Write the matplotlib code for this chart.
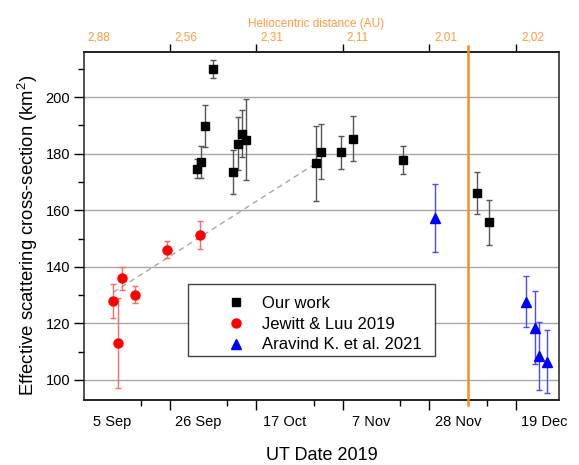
import matplotlib
matplotlib.use("Agg")
import matplotlib.pyplot as plt
from matplotlib.lines import Line2D
from matplotlib.patches import Rectangle
from matplotlib.ticker import FixedLocator

plt.rcParams['font.family'] = ['Liberation Sans', 'DejaVu Sans']
plt.rcParams['mathtext.fontset'] = 'custom'
plt.rcParams['mathtext.rm'] = 'Liberation Sans'
plt.rcParams['mathtext.default'] = 'regular'

# ---- data (x = days since 2019-09-01) ----
our_day = [24.56, 25.53, 26.5, 28.44, 33.44, 34.58, 35.55, 36.52,
           53.5, 54.65, 59.65, 62.57, 74.56, 92.52, 95.5]
our_val = [174.7, 177.1, 189.9, 209.9, 173.5, 183.6, 187.1, 184.9,
           176.6, 180.7, 180.5, 185.3, 177.8, 166.1, 155.8]
our_err = [3.3, 5.5, 7.5, 3.2, 7.8, 9.3, 8.4, 14.3,
           13.3, 9.7, 5.9, 7.9, 5.0, 7.3, 8.0]

jl_day = [4.32, 5.38, 6.43, 9.51, 17.42, 25.43]
jl_val = [128.0, 113.0, 135.9, 130.1, 146.1, 151.2]
jl_err = [6.0, 16.0, 4.0, 3.0, 3.0, 5.0]

ar_day = [82.4, 104.5, 106.6, 107.6, 109.5]
ar_val = [157.3, 127.6, 118.5, 108.5, 106.5]
ar_err = [12.0, 9.0, 12.8, 12.0, 11.0]

trend_day = [4.32, 53.5]
trend_val = [131.0, 176.6]

perihelion_day = 90.4

date_label_days = [4, 25, 46, 67, 88, 109]
date_labels = ['5 Sep', '26 Sep', '17 Oct', '7 Nov', '28 Nov', '19 Dec']
date_major_ticks = [18, 39, 60, 81, 102]
date_minor_ticks = [11, 32, 53, 74, 95]

helio_label_days = [0.85, 22.0, 42.8, 63.7, 85.1, 106.2]
helio_labels = ['2,88', '2,56', '2,31', '2,11', '2,01', '2,02']
helio_ticks = [18, 39, 60, 81, 102]

y_major = [100, 120, 140, 160, 180, 200]
y_minor = [110, 130, 150, 170, 190, 210]

orange = '#ff8a1f'
orange_txt = '#ff9a40'

fig = plt.figure(figsize=(5.79, 4.65), dpi=100)
ax = fig.add_axes([0.1451, 0.1398, 0.8204, 0.749])
ax.set_xlim(-2.8, 112.5)
ax.set_ylim(92.9, 216.1)

for s in ax.spines.values():
    s.set_linewidth(1.1)
    s.set_color('#222222')

# grid
ax.set_yticks(y_major)
ax.yaxis.set_minor_locator(FixedLocator(y_minor))
ax.yaxis.grid(True, color='#a8a8a8', lw=1.0)
ax.set_axisbelow(True)
ax.tick_params(axis='y', which='major', length=7, width=1, direction='out',
               labelsize=10.5, pad=3)
ax.tick_params(axis='y', which='minor', length=4, width=1, direction='out')

# bottom date labels
ax.set_xticks(date_label_days, date_labels)
ax.tick_params(axis='x', which='major', length=0, labelsize=10.5, pad=11)
sec = ax.secondary_xaxis('bottom')
sec.set_xticks(date_major_ticks, labels=[])
sec.xaxis.set_minor_locator(FixedLocator(date_minor_ticks))
sec.tick_params(which='major', length=7, width=1, direction='out')
sec.tick_params(which='minor', length=4, width=1, direction='out')
sec.spines['bottom'].set_linewidth(1.1)

# top heliocentric axis
top_t = ax.secondary_xaxis('top')
top_t.set_xticks(helio_ticks, labels=[])
top_t.tick_params(length=6, width=1, direction='out')
top_t.spines['top'].set_linewidth(1.1)
top_l = ax.secondary_xaxis('top')
top_l.set_xticks(helio_label_days, helio_labels)
top_l.tick_params(length=0, pad=6, labelsize=8.5, labelcolor=orange_txt)
top_l.spines['top'].set_visible(False)
ax.text(0.488, 1.08, 'Heliocentric distance (AU)', transform=ax.transAxes,
        ha='center', va='center', fontsize=8.5, color=orange_txt)

# perihelion line
ax.axvline(perihelion_day, ymin=-0.015, ymax=1.015, color=orange, lw=1.8,
           clip_on=False, zorder=3)

# trend line
ax.plot(trend_day, trend_val, ls=(0, (4, 3)), color='#a8a8a8', lw=1.0, zorder=2)

# data
ax.errorbar(our_day, our_val, yerr=our_err, fmt='s', color='black', ms=6,
            ecolor='#555555', elinewidth=1, capsize=2.5, capthick=1, zorder=4)
ax.errorbar(jl_day, jl_val, yerr=jl_err, fmt='o', color='#ff0000', ms=6.5,
            ecolor='#ff6a6a', elinewidth=1, capsize=2.5, capthick=1, zorder=4)
ax.errorbar(ar_day, ar_val, yerr=ar_err, fmt='^', color='#0000ff', ms=7,
            ecolor='#4a4aff', elinewidth=1, capsize=2.5, capthick=1, zorder=4)

# legend frame + legend
ax.add_patch(Rectangle((0.219, 0.126), 0.52, 0.207, transform=ax.transAxes,
                       facecolor='white', edgecolor='#444444', lw=1.0, zorder=5))
handles = [Line2D([], [], marker='s', ls='none', color='black', ms=6),
           Line2D([], [], marker='o', ls='none', color='#ff0000', ms=6.5),
           Line2D([], [], marker='^', ls='none', color='#0000ff', ms=7)]
leg = ax.legend(handles, ['Our work', 'Jewitt & Luu 2019', 'Aravind K. et al. 2021'],
                loc='center left', bbox_to_anchor=(0.303, 0.218), frameon=False,
                borderpad=0, borderaxespad=0, handlelength=1.0, handletextpad=1.05,
                labelspacing=0.35, fontsize=12)
leg.set_zorder(6)

ax.set_xlabel('UT Date 2019', fontsize=13)
ax.xaxis.set_label_coords(0.501, -0.135)
ax.set_ylabel(r'Effective scattering cross-section (km$^2$)', fontsize=13.3)
ax.yaxis.set_label_coords(-0.093, 0.474)

fig.savefig('out.png', dpi=100)
